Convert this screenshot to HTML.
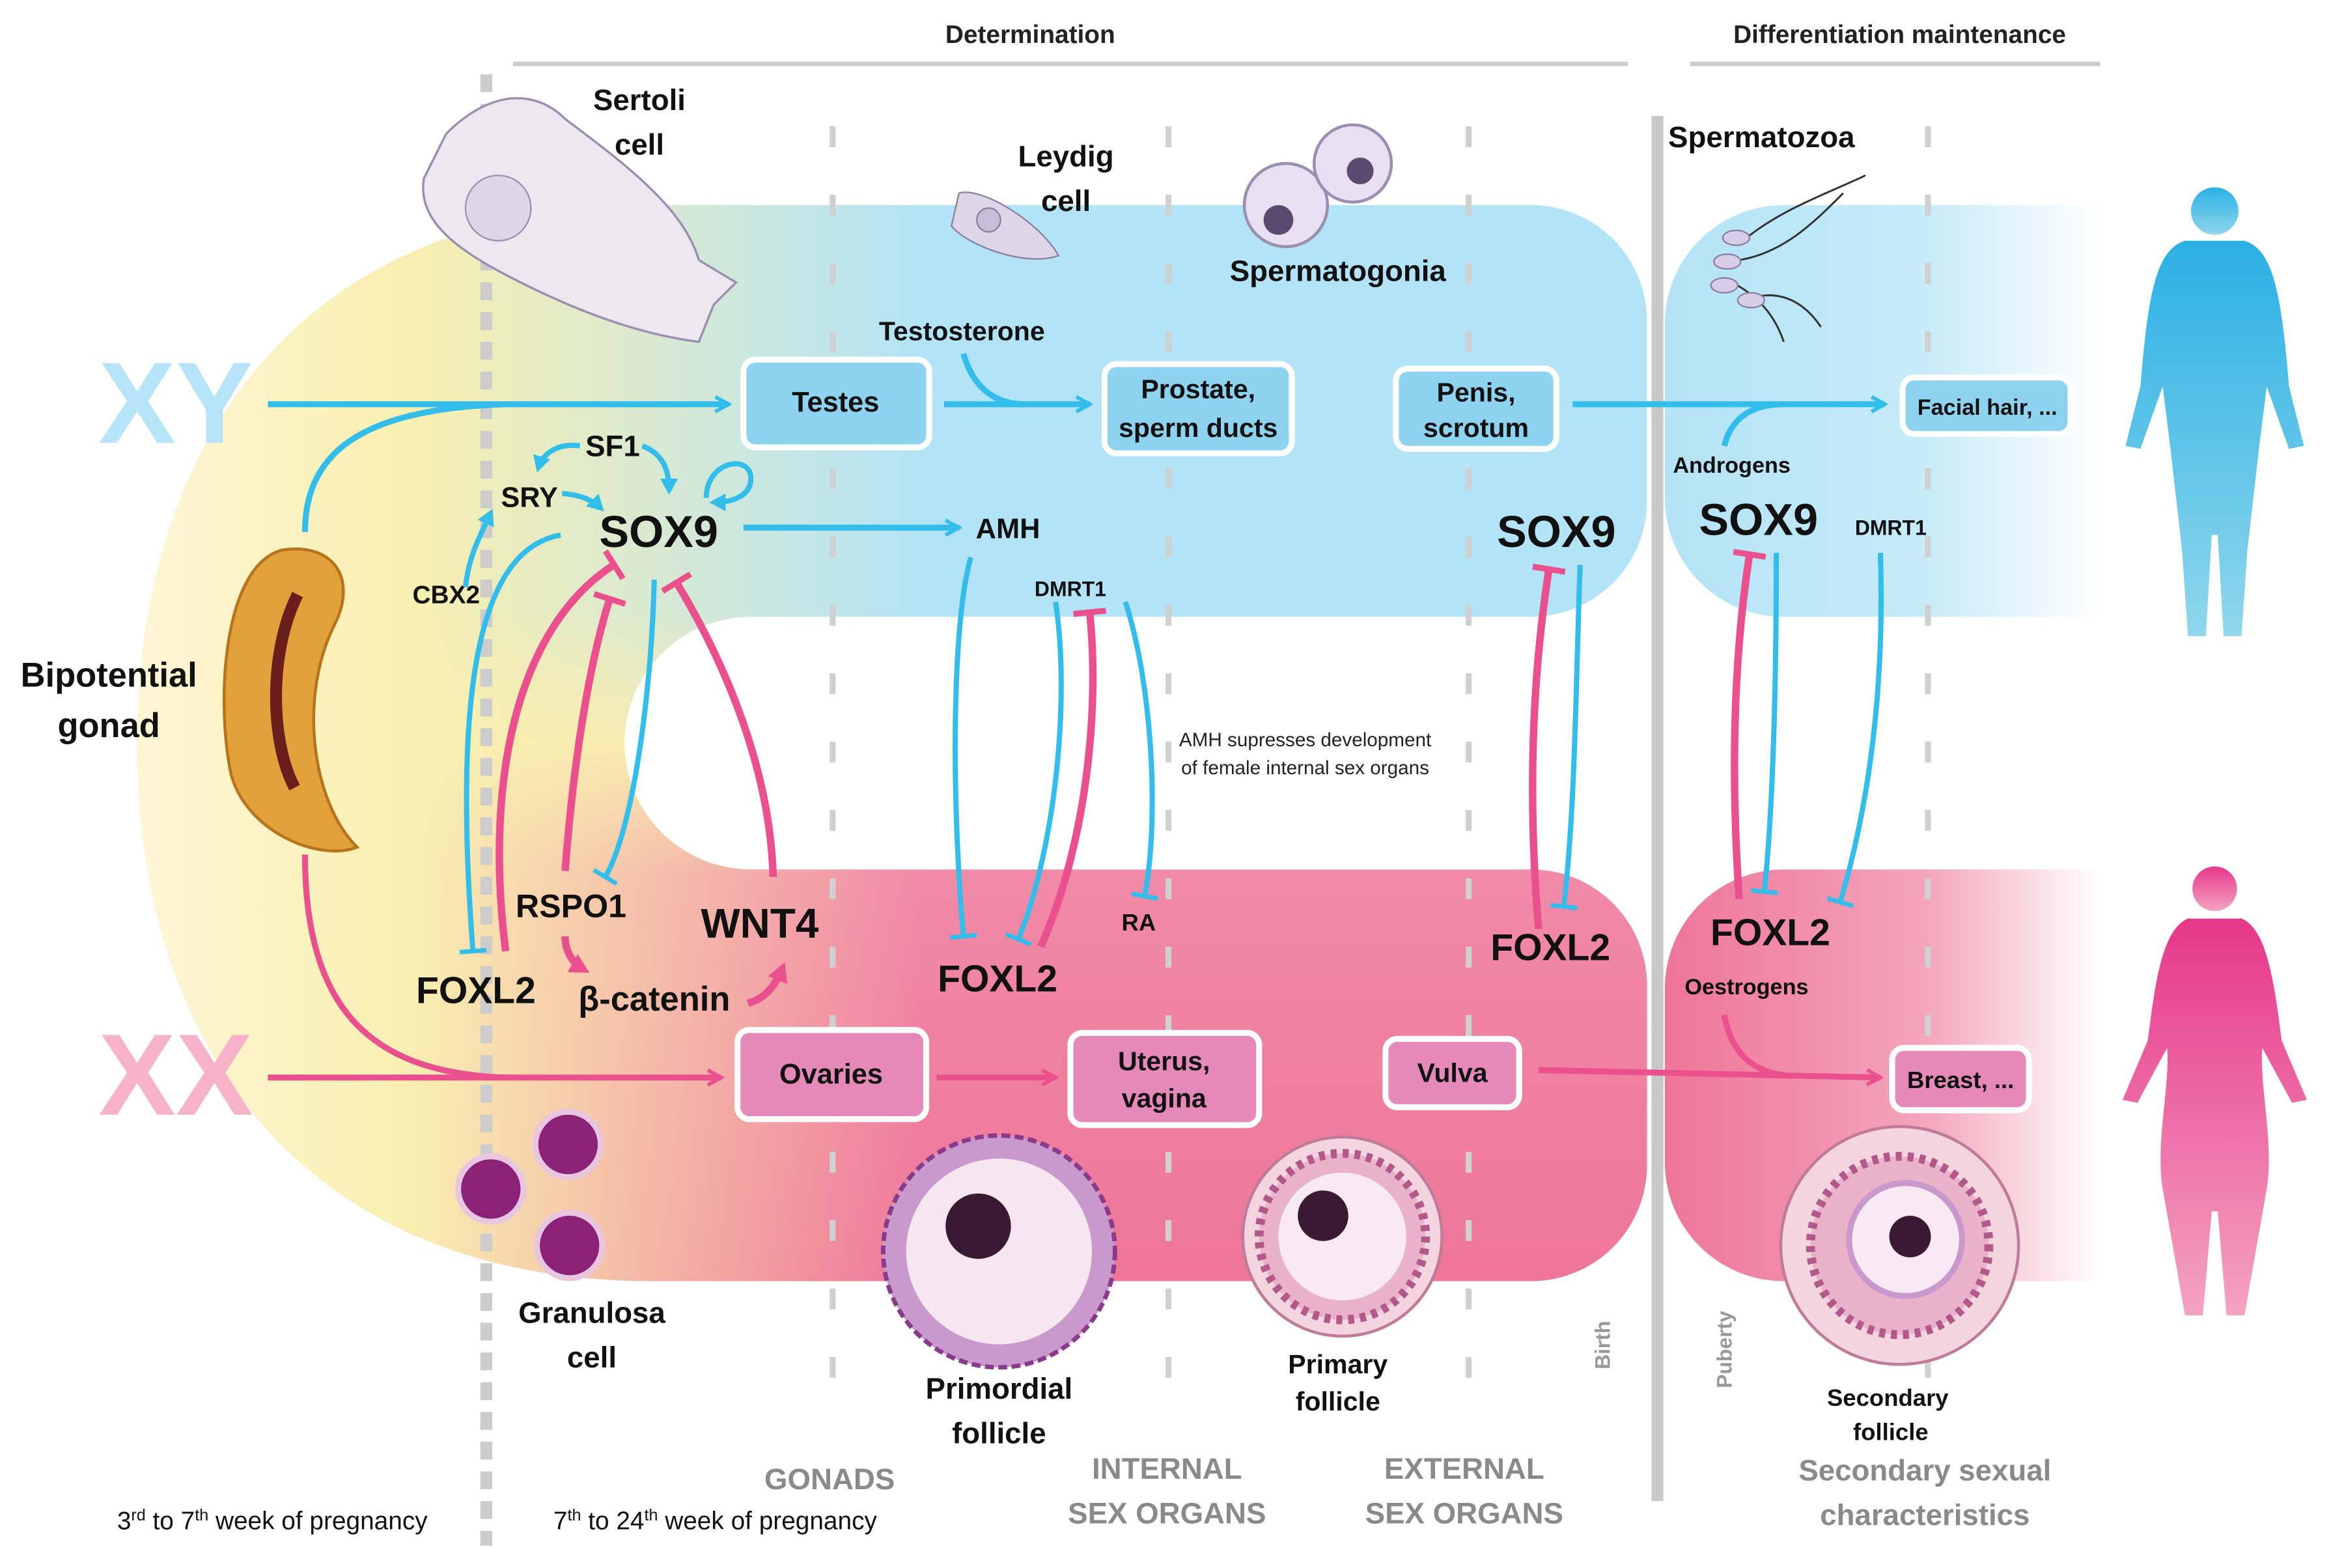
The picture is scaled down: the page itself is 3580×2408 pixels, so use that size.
<!DOCTYPE html>
<html><head><meta charset="utf-8"><style>
html,body{margin:0;padding:0;background:#fff}
svg{display:block}
text{font-family:"Liberation Sans",sans-serif;font-weight:bold}
</style></head><body>
<svg width="3580" height="2408" viewBox="0 0 1568 1055" xmlns="http://www.w3.org/2000/svg">
<defs>
<linearGradient id="vg" x1="0" y1="0" x2="0" y2="1">
<stop offset="0" stop-color="#b3e3f6"/><stop offset="0.38" stop-color="#b3e3f6"/>
<stop offset="0.5" stop-color="#f9e7b0"/><stop offset="0.62" stop-color="#f08aa6"/><stop offset="1" stop-color="#ee7598"/></linearGradient>
<linearGradient id="hg" x1="90" y1="0" x2="620" y2="0" gradientUnits="userSpaceOnUse">
<stop offset="0" stop-color="#fdf6d6" stop-opacity="1"/><stop offset="0.35" stop-color="#f9efb0" stop-opacity="1"/><stop offset="1" stop-color="#f9efb0" stop-opacity="0"/></linearGradient>
<linearGradient id="rb" x1="0" y1="0" x2="1" y2="0"><stop offset="0" stop-color="#b3e3f6"/><stop offset="0.6" stop-color="#c7ebf8"/><stop offset="1" stop-color="#fff"/></linearGradient>
<linearGradient id="rp" x1="0" y1="0" x2="1" y2="0"><stop offset="0" stop-color="#ee7598"/><stop offset="0.6" stop-color="#f3a5bc"/><stop offset="1" stop-color="#fff"/></linearGradient>
<linearGradient id="mb" x1="0" y1="0" x2="0" y2="1"><stop offset="0" stop-color="#2bb0e4"/><stop offset="1" stop-color="#8fd7ec"/></linearGradient>
<linearGradient id="mp" x1="0" y1="0" x2="0" y2="1"><stop offset="0" stop-color="#e6378a"/><stop offset="1" stop-color="#f4a3c1"/></linearGradient>
<marker id="ab" markerWidth="12" markerHeight="12" refX="10" refY="6" orient="auto" markerUnits="userSpaceOnUse"><path d="M1,1 L10,6 L1,11" fill="none" stroke="#33bdea" stroke-width="2.5"/></marker>
<marker id="ap" markerWidth="12" markerHeight="12" refX="10" refY="6" orient="auto" markerUnits="userSpaceOnUse"><path d="M1,1 L10,6 L1,11" fill="none" stroke="#ea4f8e" stroke-width="2.5"/></marker>
<marker id="fb" markerWidth="12" markerHeight="12" refX="8" refY="6" orient="auto" markerUnits="userSpaceOnUse"><path d="M0,0 L11,6 L0,12 Z" fill="#33bdea"/></marker>
<marker id="fp" markerWidth="14" markerHeight="14" refX="8" refY="7" orient="auto" markerUnits="userSpaceOnUse"><path d="M0,0 L13,7 L0,14 Z" fill="#ea4f8e"/></marker>
<marker id="tb" markerWidth="20" markerHeight="20" refX="2" refY="10" orient="auto" markerUnits="userSpaceOnUse"><path d="M2,1 V19" stroke="#33bdea" stroke-width="3"/></marker>
<marker id="tp" markerWidth="24" markerHeight="24" refX="2" refY="12" orient="auto" markerUnits="userSpaceOnUse"><path d="M2,1 V23" stroke="#ea4f8e" stroke-width="4"/></marker>
<clipPath id="shape"><path d="M440,138 H1030 A78 78 0 0 1 1108 216 V337 A78 78 0 0 1 1030 415 H505 A85 85 0 0 0 505 585 H1030 A78 78 0 0 1 1108 663 V784 A78 78 0 0 1 1030 862 H440 C200,862 92,700 92,500 C92,300 200,138 440,138 Z"/></clipPath>
</defs>

<!-- background shape -->
<g clip-path="url(#shape)">
<rect x="0" y="130" width="1120" height="740" fill="url(#vg)"/>
<rect x="0" y="130" width="1120" height="740" fill="url(#hg)"/>
</g>
<path d="M1200,138 H1413 V415 H1200 A80 80 0 0 1 1120 335 V218 A80 80 0 0 1 1200 138 Z" fill="url(#rb)"/>
<path d="M1200,585 H1413 V862 H1200 A80 80 0 0 1 1120 782 V665 A80 80 0 0 1 1200 585 Z" fill="url(#rp)"/>

<!-- header -->
<text x="693" y="29" font-size="17" text-anchor="middle" fill="#222">Determination</text>
<line x1="345" y1="43" x2="1095" y2="43" stroke="#ccc" stroke-width="3"/>
<text x="1278" y="29" font-size="17" text-anchor="middle" fill="#222">Differentiation maintenance</text>
<line x1="1137" y1="43" x2="1413" y2="43" stroke="#ccc" stroke-width="3"/>

<!-- dashed lines -->
<line x1="327" y1="50" x2="327" y2="1040" stroke="#ccc" stroke-width="8" stroke-dasharray="12,8"/>
<g stroke="#d0d0d0" stroke-width="4" stroke-dasharray="14,32">
<line x1="560" y1="85" x2="560" y2="945"/><line x1="786" y1="85" x2="786" y2="945"/>
<line x1="988" y1="85" x2="988" y2="945"/><line x1="1297" y1="85" x2="1297" y2="945"/></g>
<line x1="1115" y1="78" x2="1115" y2="1010" stroke="#c8c8c8" stroke-width="8"/>

<!-- XY XX -->
<text x="118" y="298" font-size="78" fill="#b6e4f8" text-anchor="middle">XY</text>
<text x="118" y="750" font-size="78" fill="#f6b2c8" text-anchor="middle">XX</text>

<!-- gonad -->
<path d="M190,370 C150,380 145,470 155,520 C165,560 215,580 240,570 C210,540 200,470 225,420 C240,390 225,365 190,370 Z" fill="#e3a13b" stroke="#b8741c" stroke-width="2"/>
<path d="M200,400 C180,440 182,500 198,530" stroke="#6b1f1a" stroke-width="8" fill="none"/>
<text x="73" y="462" font-size="23" text-anchor="middle" fill="#111">Bipotential</text>
<text x="73" y="496" font-size="23" text-anchor="middle" fill="#111">gonad</text>

<!-- cells top -->
<path d="M300,90 C330,60 360,60 380,80 C420,110 460,140 470,175 L495,190 L480,205 L470,230 C430,225 390,210 350,190 C310,170 280,150 285,120 Z" fill="#ece8f0" stroke="#9a8fb0" stroke-width="1.5"/>
<circle cx="335" cy="140" r="22" fill="#ddd6e6" stroke="#9a8fb0"/>
<text x="430" y="74" font-size="20" text-anchor="middle" fill="#111">Sertoli</text>
<text x="430" y="104" font-size="20" text-anchor="middle" fill="#111">cell</text>
<path d="M645,130 C660,125 700,150 712,172 C690,180 650,165 640,152 Z" fill="#ddd6e6" stroke="#8a7fa0"/>
<circle cx="665" cy="148" r="8" fill="#c8bcd8" stroke="#8a7fa0"/>
<text x="717" y="112" font-size="20" text-anchor="middle" fill="#111">Leydig</text>
<text x="717" y="142" font-size="20" text-anchor="middle" fill="#111">cell</text>
<circle cx="865" cy="138" r="28" fill="#e8dff0" stroke="#9a8fb0" stroke-width="2"/><circle cx="860" cy="148" r="10" fill="#5a4a70"/>
<circle cx="910" cy="110" r="26" fill="#e8dff0" stroke="#9a8fb0" stroke-width="2"/><circle cx="915" cy="115" r="9" fill="#5a4a70"/>
<text x="900" y="189" font-size="20" text-anchor="middle" fill="#111">Spermatogonia</text>
<text x="1185" y="99" font-size="20" text-anchor="middle" fill="#111">Spermatozoa</text>
<g stroke="#333" stroke-width="1.3" fill="none"><path d="M1175,160 C1200,140 1230,130 1255,118"/><path d="M1170,175 C1200,170 1220,150 1240,130"/><path d="M1165,190 C1185,200 1195,215 1200,230"/><path d="M1180,200 C1200,195 1215,205 1225,220"/></g>
<g fill="#d8cce6" stroke="#8a7fa0"><ellipse cx="1168" cy="160" rx="9" ry="5"/><ellipse cx="1162" cy="176" rx="9" ry="5"/><ellipse cx="1160" cy="192" rx="9" ry="5"/><ellipse cx="1178" cy="202" rx="9" ry="5"/></g>

<!-- cells bottom -->
<g fill="#8c2277" stroke="#e8c6e0" stroke-width="4"><circle cx="330" cy="800" r="22"/><circle cx="382" cy="770" r="22"/><circle cx="383" cy="838" r="22"/></g>
<text x="398" y="890" font-size="20" text-anchor="middle" fill="#111">Granulosa</text>
<text x="398" y="920" font-size="20" text-anchor="middle" fill="#111">cell</text>
<circle cx="672" cy="842" r="78" fill="#c998cc" stroke="#8a3a8a" stroke-width="3" stroke-dasharray="6,3"/>
<circle cx="672" cy="842" r="64" fill="#f6e6f0" stroke="#c998cc" stroke-width="3"/><circle cx="658" cy="825" r="22" fill="#3a1a30"/>
<text x="672" y="941" font-size="20" text-anchor="middle" fill="#111">Primordial</text>
<text x="672" y="971" font-size="20" text-anchor="middle" fill="#111">follicle</text>
<circle cx="903" cy="832" r="67" fill="#f3d5df" stroke="#c07a9a" stroke-width="2"/>
<circle cx="903" cy="832" r="56" fill="#e9b2c8" stroke="#b3588a" stroke-width="6" stroke-dasharray="4,4"/>
<circle cx="903" cy="832" r="43" fill="#f8eaf2"/><circle cx="890" cy="818" r="17" fill="#3a1a30"/>
<text x="900" y="924" font-size="18" text-anchor="middle" fill="#111">Primary</text>
<text x="900" y="949" font-size="18" text-anchor="middle" fill="#111">follicle</text>
<circle cx="1278" cy="838" r="80" fill="#f3d5df" stroke="#c07a9a" stroke-width="2"/>
<circle cx="1278" cy="838" r="60" fill="#e9b2c8" stroke="#b3588a" stroke-width="6" stroke-dasharray="4,4"/>
<circle cx="1282" cy="834" r="38" fill="#f8eaf2" stroke="#c998cc" stroke-width="4"/><circle cx="1285" cy="832" r="14" fill="#3a1a30"/>
<text x="1270" y="946" font-size="16" text-anchor="middle" fill="#111">Secondary</text>
<text x="1272" y="969" font-size="16" text-anchor="middle" fill="#111">follicle</text>

<!-- humans -->
<g fill="url(#mb)"><circle cx="1490" cy="142" r="16"/><path d="M1470,162 H1510 C1530,168 1535,200 1540,260 L1550,300 L1540,302 L1525,260 L1520,300 L1512,370 L1508,428 H1496 L1492,360 H1488 L1484,428 H1472 L1468,370 L1460,300 L1455,260 L1440,302 L1430,300 L1440,260 C1445,200 1450,168 1470,162 Z"/></g>
<g fill="url(#mp)"><circle cx="1490" cy="598" r="15"/><path d="M1472,618 H1508 C1525,625 1530,660 1535,700 L1552,740 L1542,742 L1522,705 C1520,730 1530,770 1525,800 L1510,885 H1498 L1492,815 H1488 L1482,885 H1470 L1455,800 C1450,770 1460,730 1458,705 L1438,742 L1428,740 L1445,700 C1450,660 1455,625 1472,618 Z"/></g>

<!-- boxes -->
<g stroke="#fff" stroke-width="4">
<rect x="500" y="242" width="125" height="59" rx="8" fill="#8dd3ef"/>
<rect x="743" y="245" width="126" height="60" rx="8" fill="#8dd3ef"/>
<rect x="939" y="248" width="108" height="54" rx="8" fill="#8dd3ef"/>
<rect x="1280" y="254" width="113" height="38" rx="8" fill="#8dd3ef"/>
<rect x="496" y="693" width="127" height="60" rx="8" fill="#e58ab8"/>
<rect x="720" y="695" width="127" height="62" rx="8" fill="#e58ab8"/>
<rect x="932" y="699" width="90" height="46" rx="8" fill="#e58ab8"/>
<rect x="1273" y="705" width="92" height="42" rx="8" fill="#e58ab8"/>
</g>
<g fill="#111" text-anchor="middle">
<text x="562" y="277" font-size="19">Testes</text>
<text x="806" y="268" font-size="18">Prostate,</text><text x="806" y="294" font-size="18">sperm ducts</text>
<text x="993" y="270" font-size="18">Penis,</text><text x="993" y="294" font-size="18">scrotum</text>
<text x="1337" y="279" font-size="15">Facial hair, ...</text>
<text x="559" y="729" font-size="19">Ovaries</text>
<text x="783" y="720" font-size="18">Uterus,</text><text x="783" y="745" font-size="18">vagina</text>
<text x="977" y="728" font-size="18">Vulva</text>
<text x="1319" y="732" font-size="16">Breast, ...</text>
</g>

<!-- main arrows -->
<g fill="none" stroke-width="4">
<path d="M180,272 H490" stroke="#33bdea" marker-end="url(#ab)"/>
<path d="M205,358 C205,300 250,275 340,272" stroke="#33bdea"/>
<path d="M635,272 H733" stroke="#33bdea" marker-end="url(#ab)"/>
<path d="M648,238 C655,262 670,272 690,272" stroke="#33bdea"/>
<path d="M1058,272 H1268" stroke="#33bdea" marker-end="url(#ab)"/>
<path d="M1160,300 C1165,280 1180,272 1200,272" stroke="#33bdea"/>
<path d="M500,355 H645" stroke="#33bdea" marker-end="url(#ab)"/>
<path d="M180,725 H485" stroke="#ea4f8e" marker-end="url(#ap)"/>
<path d="M205,575 C205,680 250,722 340,725" stroke="#ea4f8e"/>
<path d="M630,725 H710" stroke="#ea4f8e" marker-end="url(#ap)"/>
<path d="M1035,720 L1265,725" stroke="#ea4f8e" marker-end="url(#ap)"/>
<path d="M1160,683 C1165,710 1180,722 1205,724" stroke="#ea4f8e"/>
</g>
<text x="647" y="229" font-size="18" text-anchor="middle" fill="#111">Testosterone</text>
<text x="1165" y="318" font-size="15" text-anchor="middle" fill="#111">Androgens</text>
<text x="1175" y="669" font-size="15" text-anchor="middle" fill="#111">Oestrogens</text>

<!-- regulatory network -->
<g fill="#111">
<text x="412" y="307" font-size="20" text-anchor="middle">SF1</text>
<text x="356" y="341" font-size="19" text-anchor="middle">SRY</text>
<text x="443" y="368" font-size="30" text-anchor="middle">SOX9</text>
<text x="300" y="406" font-size="17" text-anchor="middle">CBX2</text>
<text x="678" y="362" font-size="19" text-anchor="middle">AMH</text>
<text x="720" y="401" font-size="14" text-anchor="middle">DMRT1</text>
<text x="384" y="617" font-size="22" text-anchor="middle">RSPO1</text>
<text x="511" y="631" font-size="28" text-anchor="middle">WNT4</text>
<text x="320" y="675" font-size="25" text-anchor="middle">FOXL2</text>
<text x="440" y="680" font-size="23" text-anchor="middle">β-catenin</text>
<text x="671" y="667" font-size="25" text-anchor="middle">FOXL2</text>
<text x="766" y="626" font-size="16" text-anchor="middle">RA</text>
<text x="1047" y="368" font-size="30" text-anchor="middle">SOX9</text>
<text x="1043" y="646" font-size="25" text-anchor="middle">FOXL2</text>
<text x="1183" y="360" font-size="30" text-anchor="middle">SOX9</text>
<text x="1272" y="360" font-size="14" text-anchor="middle">DMRT1</text>
<text x="1191" y="636" font-size="25" text-anchor="middle">FOXL2</text>
</g>
<text x="878" y="502" font-size="13" font-weight="normal" style="font-weight:normal" text-anchor="middle" fill="#222">AMH supresses development</text>
<text x="878" y="521" font-size="13" style="font-weight:normal" text-anchor="middle" fill="#222">of female internal sex organs</text>

<g fill="none" stroke-width="3.5">
<path d="M390,300 C375,298 365,305 362,315" stroke="#33bdea" marker-end="url(#fb)"/>
<path d="M432,300 C445,305 450,315 450,330" stroke="#33bdea" marker-end="url(#fb)"/>
<path d="M378,332 C390,333 398,336 404,342" stroke="#33bdea" marker-end="url(#fb)"/>
<path d="M475,335 C475,310 505,305 505,322 C505,335 490,338 480,338" stroke="#33bdea" marker-end="url(#fb)"/>
<path d="M313,395 C315,375 322,362 330,345" stroke="#33bdea" marker-end="url(#fb)"/>
<path d="M377,360 C320,370 305,470 318,640" stroke="#33bdea" marker-end="url(#tb)"/>
<path d="M440,390 C438,470 425,560 407,590" stroke="#33bdea" marker-end="url(#tb)"/>
<path d="M653,375 C640,420 640,540 648,630" stroke="#33bdea" marker-end="url(#tb)"/>
<path d="M710,405 C720,470 710,570 685,632" stroke="#33bdea" marker-end="url(#tb)"/>
<path d="M757,405 C775,460 780,550 770,603" stroke="#33bdea" marker-end="url(#tb)"/>
<path d="M1063,380 C1060,460 1060,540 1052,610" stroke="#33bdea" marker-end="url(#tb)"/>
<path d="M1195,372 C1195,460 1193,540 1187,600" stroke="#33bdea" marker-end="url(#tb)"/>
<path d="M1265,372 C1268,460 1258,540 1238,607" stroke="#33bdea" marker-end="url(#tb)"/>
</g>
<g fill="none" stroke-width="5">
<path d="M340,640 C325,520 350,420 413,380" stroke="#ea4f8e" marker-end="url(#tp)"/>
<path d="M380,586 C385,520 395,450 410,403" stroke="#ea4f8e" marker-end="url(#tp)"/>
<path d="M520,590 C518,520 490,450 455,392" stroke="#ea4f8e" marker-end="url(#tp)"/>
<path d="M380,630 C380,640 385,648 392,652" stroke="#ea4f8e" marker-end="url(#fp)"/>
<path d="M503,675 C515,672 522,662 526,652" stroke="#ea4f8e" marker-end="url(#fp)"/>
<path d="M700,637 C730,570 740,480 733,412" stroke="#ea4f8e" marker-end="url(#tp)"/>
<path d="M1035,625 C1028,540 1030,460 1042,383" stroke="#ea4f8e" marker-end="url(#tp)"/>
<path d="M1170,605 C1165,530 1165,450 1177,373" stroke="#ea4f8e" marker-end="url(#tp)"/>
</g>

<!-- bottom labels -->
<text x="183" y="1029" font-size="17" style="font-weight:normal" text-anchor="middle" fill="#111">3<tspan font-size="11" dy="-6">rd</tspan><tspan dy="6"> to 7</tspan><tspan font-size="11" dy="-6">th</tspan><tspan dy="6"> week of pregnancy</tspan></text>
<text x="481" y="1029" font-size="17" style="font-weight:normal" text-anchor="middle" fill="#111">7<tspan font-size="11" dy="-6">th</tspan><tspan dy="6">  to 24</tspan><tspan font-size="11" dy="-6">th</tspan><tspan dy="6"> week of pregnancy</tspan></text>
<g fill="#8a8a8a" font-size="20" text-anchor="middle">
<text x="558" y="1002">GONADS</text>
<text x="785" y="995">INTERNAL</text><text x="785" y="1025">SEX ORGANS</text>
<text x="985" y="995">EXTERNAL</text><text x="985" y="1025">SEX ORGANS</text>
<text x="1295" y="996">Secondary sexual</text><text x="1295" y="1026">characteristics</text>
</g>
<text transform="translate(1083,905) rotate(-90)" font-size="14" fill="#999" text-anchor="middle">Birth</text>
<text transform="translate(1165,908) rotate(-90)" font-size="14" fill="#999" text-anchor="middle">Puberty</text>
</svg>
</body></html>
